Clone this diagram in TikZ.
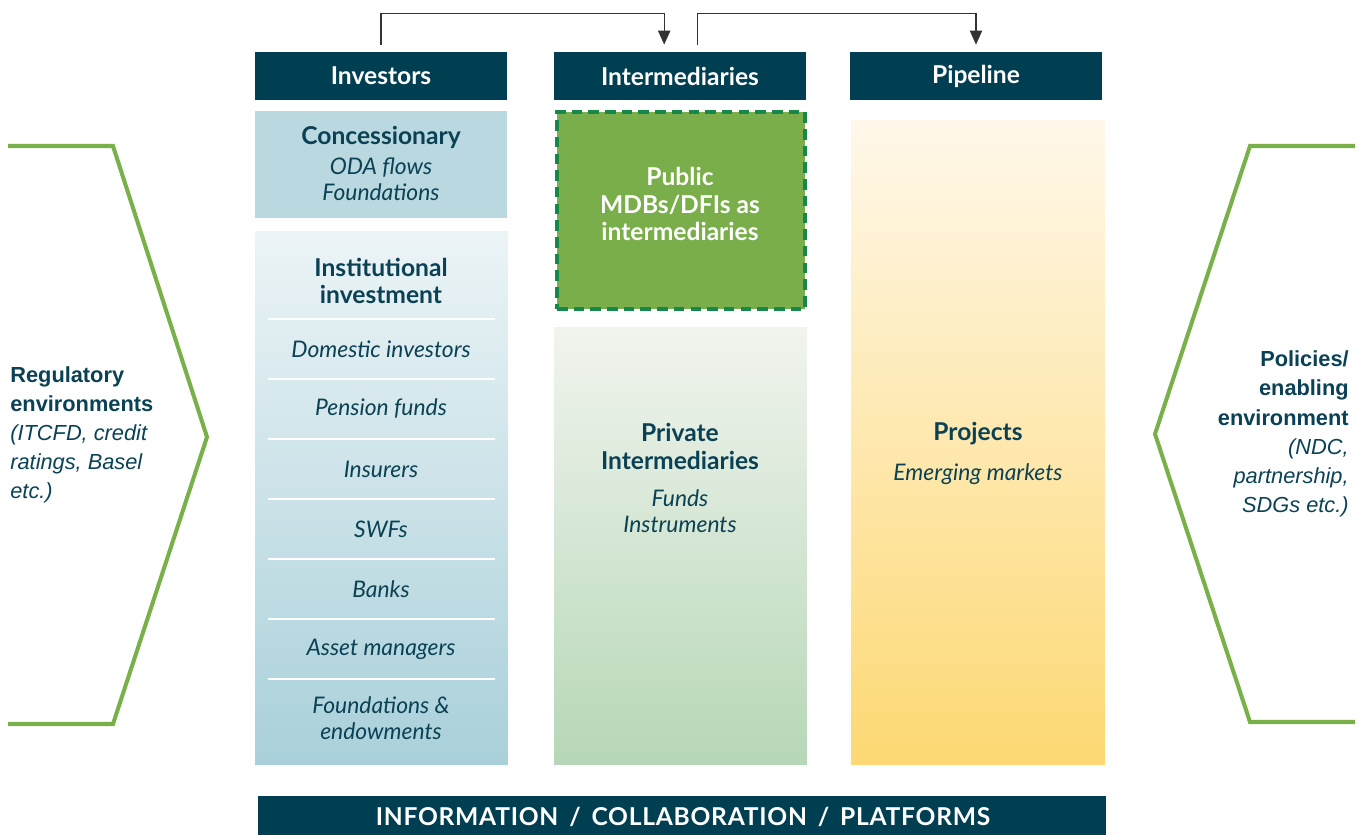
\documentclass[tikz,border=0pt]{standalone}
\usepackage{fontspec}
\setmainfont{Lato}
\newfontfamily\sidefont{Liberation Sans}
\usetikzlibrary{arrows.meta}
\definecolor{navy}{HTML}{003F52}
\definecolor{ink}{HTML}{0B4154}
\definecolor{leaf}{HTML}{7AB04A}
\definecolor{pubfill}{HTML}{7AAE4A}
\definecolor{pubedge}{HTML}{15884A}
\definecolor{arrowgray}{HTML}{333333}
\definecolor{concfill}{HTML}{B9D8DF}
\definecolor{insttop}{HTML}{ECF4F6}
\definecolor{instbot}{HTML}{A9D0DA}
\definecolor{privtop}{HTML}{F1F4EE}
\definecolor{privbot}{HTML}{B6D7B7}
\definecolor{projtop}{HTML}{FFF8EA}
\definecolor{projbot}{HTML}{FDD873}
\tikzset{
  head/.style={fill=navy, text=white, font=\bfseries\fontsize{14}{16}\selectfont,
    minimum width=5.04cm, minimum height=0.96cm, inner sep=0pt},
  panel/.style={inner sep=0pt},
  ttl/.style={text=ink, font=\bfseries\fontsize{14}{15.4}\selectfont, align=center},
  itm/.style={text=ink, font=\itshape\fontsize{13}{14.8}\selectfont, align=center},
  rule/.style={white, line width=1pt},
  chev/.style={leaf, line width=2.3pt, line join=miter},
  side/.style={text=ink, inner sep=0pt, font=\sidefont\fontsize{12.4}{16.6}\selectfont},
  flow/.style={arrowgray, line width=0.7pt, -{Triangle[length=8pt,width=7pt]}}
}
\begin{document}
\begin{tikzpicture}[x=0.02cm,y=-0.02cm]
\useasboundingbox (0,0) rectangle (1363,835);
% headers
\node[head] (hinv) at (381,76) {Investors};
\node[head] (hint) at (680,76) {Intermediaries};
\node[head] (hpip) at (976,76) {Pipeline};
% flows between the headers
\draw[flow] ([yshift=4pt]hinv.north) -- ++(0,-31) -| ([xshift=-9pt,yshift=4pt]hint.north);
\draw[flow] ([xshift=10pt,yshift=4pt]hint.north) -- ++(0,-31) -| ([yshift=4pt]hpip.north);
% investors column
\node[panel, fill=concfill, minimum width=5.04cm, minimum height=2.14cm] (conc) at (381,164.5) {};
\node[ttl] (concT) at (381,137) {Concessionary};
\node[itm] (concI) at (381,179) {ODA flows\\Foundations};
\node[panel, top color=insttop, bottom color=instbot, minimum width=5.06cm, minimum height=10.68cm] (inst) at (381.5,498) {};
\node[ttl] (instT) at (381,280.5) {Institutional\\investment};
\foreach \y in {319,379,439,499,559,619,679}
  \draw[rule] (268,\y) -- (495,\y);
\node[itm] (dom) at (381,349) {Domestic investors};
\node[itm] (pen) at (381,409) {Pension funds};
\node[itm] (ins) at (381,469) {Insurers};
\node[itm] (swf) at (381,529) {SWFs};
\node[itm] (bnk) at (381,589) {Banks};
\node[itm] (ast) at (381,649) {Asset managers};
\node[itm] (fnd) at (381,718.5) {Foundations \&\\endowments};
% intermediaries column
\node[panel, fill=pubfill, draw=pubedge, line width=1.8pt, dash pattern=on 6pt off 3.5pt,
  minimum width=4.96cm, minimum height=3.94cm] (pub) at (681,210.5) {};
\node[ttl, text=white] (pubT) at (680,204) {Public\\MDBs/DFIs as\\intermediaries};
\node[panel, top color=privtop, bottom color=privbot, minimum width=5.06cm, minimum height=8.76cm] (priv) at (680.5,546) {};
\node[ttl] (privT) at (680,446.5) {Private\\Intermediaries};
\node[itm] (privI) at (680,511.5) {Funds\\Instruments};
% pipeline column
\node[panel, top color=projtop, bottom color=projbot, minimum width=5.08cm, minimum height=12.9cm] (proj) at (978,442.5) {};
\node[ttl] (projT) at (978,434) {Projects};
\node[itm] (projI) at (978,474) {Emerging markets};
% bottom bar
\node[panel, fill=navy, minimum width=16.96cm, minimum height=0.78cm] (bar) at (682,815.5) {};
\node[text=white, font=\bfseries\fontsize{14}{16}\selectfont\addfontfeature{LetterSpace=3}] (barT) at (683,817) {INFORMATION\, /\, COLLABORATION\, /\, PLATFORMS};
% side brackets
\draw[chev] (8,146) -- (113,146) -- (207,437) -- (113,724) -- (8,724);
\draw[chev] (1355,146) -- (1250,146) -- (1155,434) -- (1250,722) -- (1355,722);
\node[side, align=left, anchor=west] (reg) at (10,435) {\textbf{Regulatory}\\\textbf{environments}\\\textit{(ITCFD, credit}\\\textit{ratings, Basel}\\\textit{etc.)}};
\node[side, align=right, anchor=east] (pol) at (1349,434) {\textbf{Policies/}\\\textbf{enabling}\\\textbf{environment}\\\textit{(NDC,}\\\textit{partnership,}\\\textit{SDGs etc.)}};
\end{tikzpicture}
\end{document}
